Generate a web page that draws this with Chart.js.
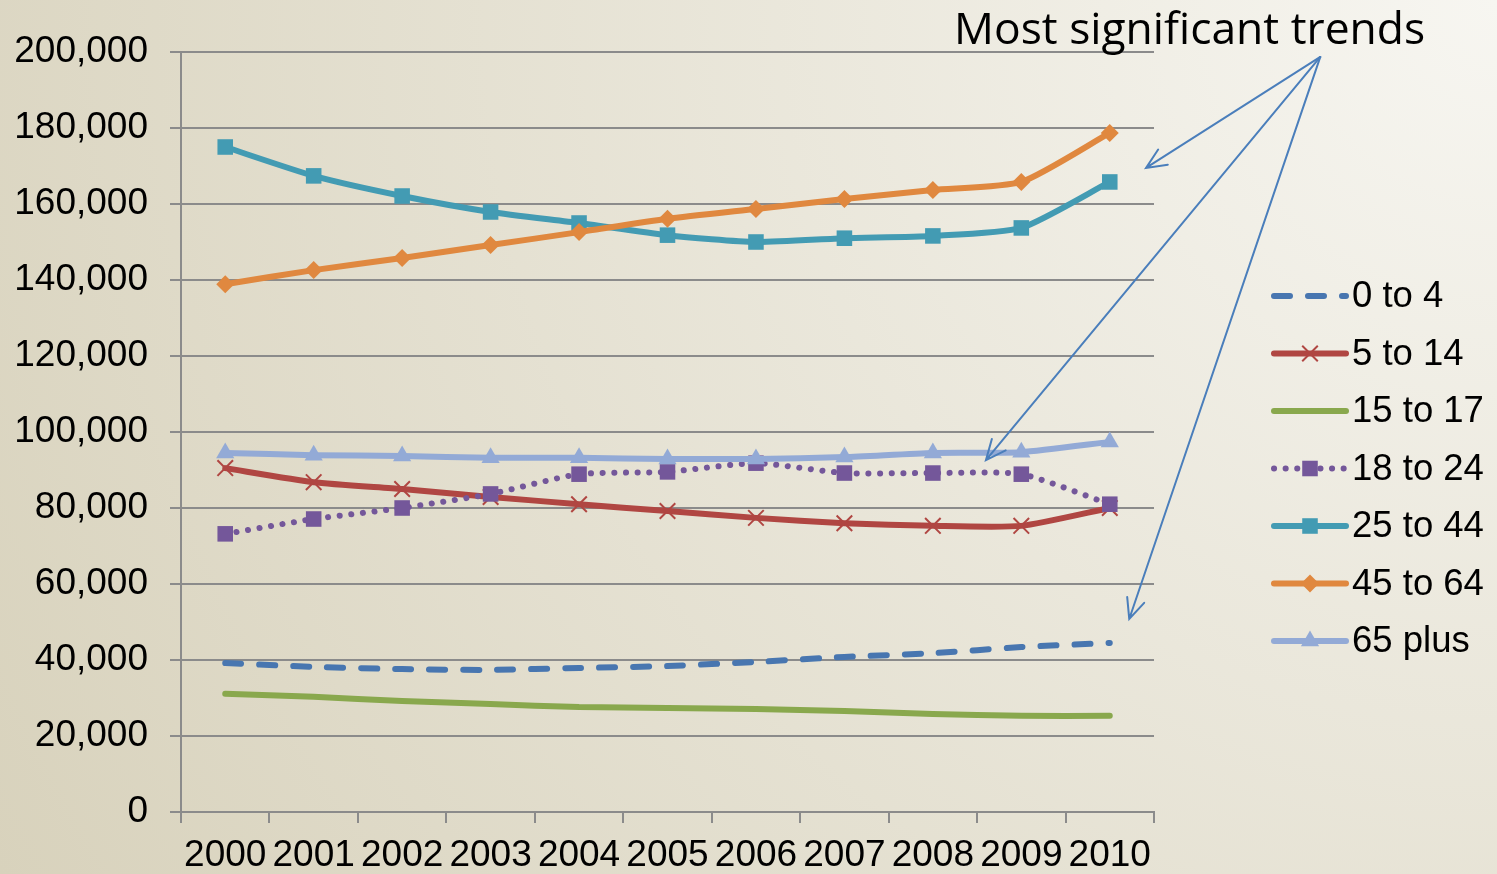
<!DOCTYPE html>
<html lang="en">
<head>
    <meta charset="UTF-8">
    <title>Population by age group</title>
    <script src="https://cdn.jsdelivr.net/npm/chart.js"></script>
    <style>
        html, body { margin: 0; padding: 0; }
        body {
            width: 1497px; height: 874px; overflow: hidden;
            background: radial-gradient(circle farthest-corner at 100% 0%, #f7f6f1 0%, #d8d2bc 100%);
        }
        canvas { display: block; }
    </style>
</head>
<body>
    <canvas id="graph" width="1497" height="874"></canvas>
<script>
    // values
    const years = ['2000', '2001', '2002', '2003', '2004', '2005', '2006', '2007', '2008', '2009', '2010'];
    const age0to4 = [39200, 38200, 37600, 37400, 37900, 38400, 39500, 40800, 41800, 43400, 44500];
    const age5to14 = [90500, 86800, 85000, 82900, 81000, 79200, 77400, 76000, 75300, 75300, 80000];
    const age15to17 = [31100, 30300, 29200, 28400, 27600, 27400, 27100, 26600, 25800, 25300, 25300];
    const age18to24 = [73200, 77100, 80000, 83700, 88900, 89500, 91800, 89200, 89200, 88900, 81000];
    const age25to44 = [175000, 167400, 162100, 157900, 155000, 151800, 150000, 151000, 151600, 153700, 165800];
    const age45to64 = [138900, 142600, 145800, 149200, 152600, 156100, 158700, 161300, 163700, 165800, 178700];
    const age65plus = [94500, 93900, 93700, 93200, 93200, 92900, 92900, 93400, 94500, 94700, 97400];

    const yMin = 0, yMax = 200000, yStep = 20000;

    const noteText = 'Most significant trends';
    // arrows: start and tips given as [category index, value]
    const noteFrom = [12.38, 198700];
    const noteTips = [[10.41, 169500], [8.60, 92600], [10.22, 50800]];

    const gridColor = '#8b8b8b';

    function series(label, data, color, style) {
        return Object.assign({
            label: label,
            data: data,
            borderColor: color,
            backgroundColor: color,
            pointBackgroundColor: color,
            pointBorderColor: color,
            borderWidth: 6,
            tension: 0.2,
            borderCapStyle: 'round',
            pointBorderWidth: 0,
            pointHoverRadius: 0
        }, style);
    }

    const datasets = [
        series('0 to 4', age0to4, '#4876b0', { borderWidth: 6, borderDash: [16, 18], pointRadius: 0 }),
        series('5 to 14', age5to14, '#b04642', { pointStyle: 'crossRot', pointRadius: 11, pointBorderWidth: 2 }),
        series('15 to 17', age15to17, '#89a84d', { pointRadius: 0 }),
        series('18 to 24', age18to24, '#74579a', { borderWidth: 6, borderDash: [0.1, 11.5], pointStyle: 'rect', pointRadius: 11 }),
        series('25 to 44', age25to44, '#439bb3', { pointStyle: 'rect', pointRadius: 11 }),
        series('45 to 64', age45to64, '#e0883f', { pointStyle: 'rectRot', pointRadius: 9 }),
        series('65 plus', age65plus, '#93aad6', { pointStyle: 'triangle', pointRadius: 10.5 })
    ];
    // later series drawn on top, as in the original
    datasets.forEach((d, i) => { d.order = datasets.length - i; });

    function drawMarker(ctx, ds, x, y) {
        if (!ds.pointRadius) return;
        ctx.save();
        ctx.setLineDash([]);
        ctx.fillStyle = ds.pointBackgroundColor;
        ctx.strokeStyle = ds.pointBorderColor;
        ctx.lineWidth = ds.pointBorderWidth;
        Chart.helpers.drawPoint(ctx, {
            pointStyle: ds.pointStyle, radius: ds.pointRadius, rotation: 0,
            borderWidth: ds.pointBorderWidth
        }, x, y);
        ctx.restore();
    }

    const legendPlugin = {
        id: 'sideLegend',
        afterDraw(chart) {
            const ctx = chart.ctx;
            const x0 = 1274, x1 = 1346, top = 296, step = 57.5;
            chart.data.datasets.forEach((ds, i) => {
                const y = top + i * step;
                ctx.save();
                ctx.strokeStyle = ds.borderColor;
                ctx.lineWidth = ds.borderWidth;
                ctx.lineCap = 'round';
                ctx.setLineDash(ds.borderDash || []);
                ctx.beginPath();
                ctx.moveTo(x0, y);
                ctx.lineTo(x1, y);
                ctx.stroke();
                ctx.restore();
                drawMarker(ctx, ds, (x0 + x1) / 2, y);
                ctx.save();
                ctx.fillStyle = '#000';
                ctx.font = '36.5px "Liberation Sans", Arial, sans-serif';
                ctx.textBaseline = 'middle';
                ctx.fillText(ds.label, 1352, y + 1);
                ctx.restore();
            });
        }
    };

    const notePlugin = {
        id: 'trendNote',
        afterDraw(chart) {
            const ctx = chart.ctx;
            const xs = chart.scales.x, ys = chart.scales.y;
            const fx = xs.getPixelForValue(noteFrom[0]), fy = ys.getPixelForValue(noteFrom[1]);
            ctx.save();
            ctx.fillStyle = '#000';
            ctx.font = '40px "Open Sans", "DejaVu Sans", sans-serif';
            const w = ctx.measureText(noteText).width;
            const size = 40 * 471 / w;
            ctx.font = size.toFixed(1) + 'px "Open Sans", "DejaVu Sans", sans-serif';
            ctx.textBaseline = 'alphabetic';
            ctx.fillText(noteText, 954, 44);

            ctx.strokeStyle = '#4a7ebb';
            ctx.lineWidth = 2;
            ctx.lineCap = 'round';
            noteTips.forEach(t => {
                const tx = xs.getPixelForValue(t[0]), ty = ys.getPixelForValue(t[1]);
                const ang = Math.atan2(ty - fy, tx - fx);
                ctx.beginPath();
                ctx.moveTo(fx, fy);
                ctx.lineTo(tx, ty);
                const head = 22, spread = 0.42;
                ctx.moveTo(tx - head * Math.cos(ang - spread), ty - head * Math.sin(ang - spread));
                ctx.lineTo(tx, ty);
                ctx.lineTo(tx - head * Math.cos(ang + spread), ty - head * Math.sin(ang + spread));
                ctx.stroke();
            });
            ctx.restore();
        }
    };

    const tickFont = { family: '"Liberation Sans", Arial, sans-serif', size: 37 };

    new Chart(document.getElementById('graph'), {
        type: 'line',
        data: { labels: years, datasets: datasets },
        options: {
            responsive: false,
            animation: false,
            events: [],
            layout: { padding: { top: 52, right: 343, left: 0, bottom: 0 } },
            plugins: { legend: { display: false }, tooltip: { enabled: false } },
            scales: {
                x: {
                    offset: true,
                    grid: { offset: true, drawOnChartArea: false, drawTicks: true, tickLength: 11, color: gridColor, lineWidth: 2 },
                    border: { display: true, color: gridColor, width: 2 },
                    ticks: { color: '#000', font: tickFont, padding: 11, autoSkip: false, maxRotation: 0 },
                    afterFit(scale) { scale.height = 62; }
                },
                y: {
                    min: yMin,
                    max: yMax,
                    grid: { color: gridColor, lineWidth: 2, tickLength: 11 },
                    border: { display: true, color: gridColor, width: 2 },
                    ticks: {
                        stepSize: yStep, color: '#000', font: tickFont, padding: 22,
                        callback: v => v.toLocaleString('en-US')
                    },
                    afterFit(scale) { scale.width = 181; }
                }
            }
        },
        plugins: [legendPlugin, notePlugin]
    });
</script>
</body>
</html>
